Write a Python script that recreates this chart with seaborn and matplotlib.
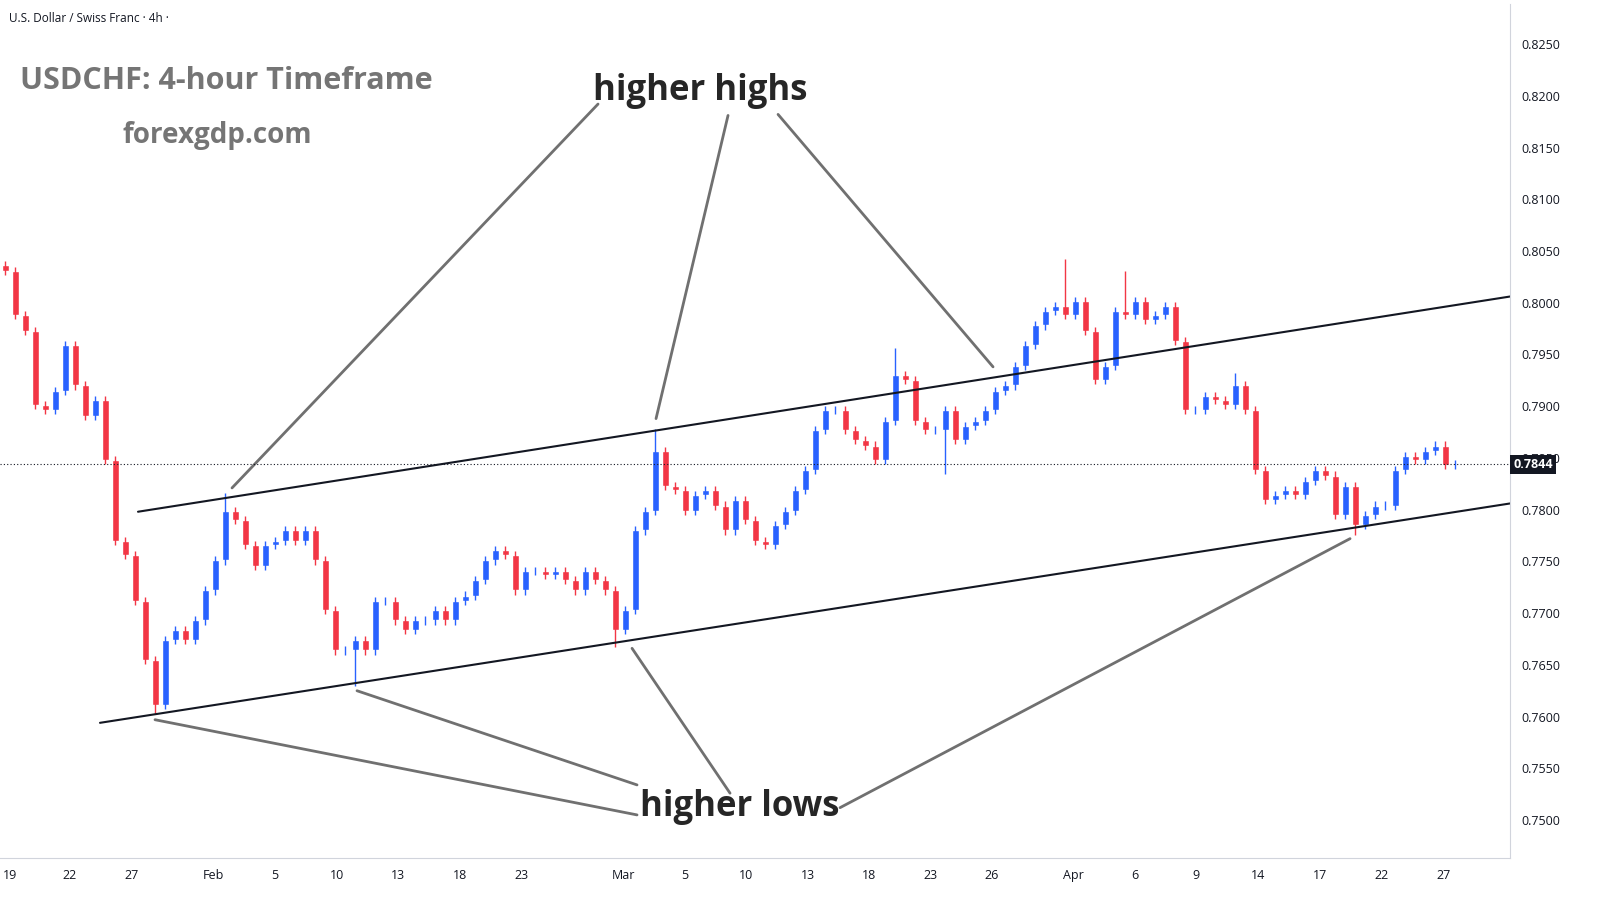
import numpy as np
import pandas as pd
import matplotlib
matplotlib.use("Agg")
import matplotlib.pyplot as plt
import seaborn as sns

# 4h closes (open = previous close)
closes = [0.8031, 0.7988, 0.7973, 0.7901, 0.7896, 0.7915, 0.7959, 0.7920, 0.7891, 0.7906,
          0.7848, 0.7770, 0.7756, 0.7712, 0.7655, 0.7611, 0.7674, 0.7684,
          0.7674, 0.7693, 0.7722, 0.7751, 0.7799, 0.7790, 0.7766, 0.7746, 0.7766,
          0.7770, 0.7780, 0.7770, 0.7780, 0.7751, 0.7703, 0.7664, 0.7664, 0.7674, 0.7664,
          0.7712, 0.7712, 0.7693, 0.7684, 0.7693, 0.7693, 0.7703, 0.7693, 0.7712,
          0.7717, 0.7732, 0.7751, 0.7761, 0.7756, 0.7722, 0.7741, 0.7741, 0.7737, 0.7741,
          0.7732, 0.7722, 0.7741, 0.7732, 0.7722, 0.7684, 0.7703, 0.7780, 0.7799, 0.7857,
          0.7823, 0.7819, 0.7799, 0.7814, 0.7819, 0.7804, 0.7780, 0.7809, 0.7790, 0.7770,
          0.7766, 0.7785, 0.7799, 0.7819, 0.7838, 0.7877, 0.7896, 0.7896, 0.7877, 0.7867,
          0.7862, 0.7848, 0.7886, 0.7930, 0.7925, 0.7886, 0.7877, 0.7877, 0.7896, 0.7867,
          0.7881, 0.7886, 0.7896, 0.7915, 0.7920, 0.7939, 0.7959, 0.7978, 0.7992, 0.7997,
          0.7988, 0.8002, 0.7973, 0.7925, 0.7939, 0.7992, 0.7988, 0.8002,
          0.7983, 0.7988, 0.7997, 0.7963, 0.7896, 0.7896, 0.7910, 0.7906, 0.7901, 0.7920,
          0.7896, 0.7838, 0.7809, 0.7814, 0.7819, 0.7814, 0.7828, 0.7838, 0.7833, 0.7795,
          0.7823, 0.7785, 0.7795, 0.7804, 0.7804, 0.7838, 0.7852, 0.7848, 0.7857, 0.7862,
          0.7843, 0.7844]
first_open = 0.8036

# notable wick extremes (bar index, price)
high_idx = [0, 22, 65, 89, 106, 112, 123]
high_val = [0.8040, 0.7816, 0.7878, 0.7956, 0.8042, 0.8031, 0.7932]
low_idx = [15, 35, 61, 94, 135]
low_val = [0.7603, 0.7630, 0.7667, 0.7834, 0.7776]

tick_pos = [0.5, 6.5, 12.7, 20.8, 27, 33.2, 39.3, 45.5, 51.6, 61.8, 68, 74.1, 80.3,
            86.4, 92.5, 98.7, 106.8, 113, 119.1, 125.3, 131.5, 137.6, 143.8]
tick_lab = ["19", "22", "27", "Feb", "5", "10", "13", "18", "23", "Mar", "5", "10", "13",
            "18", "23", "26", "Apr", "6", "9", "14", "17", "22", "27"]
price_ticks = [0.7500, 0.7550, 0.7600, 0.7650, 0.7700, 0.7750, 0.7800, 0.7850,
               0.7900, 0.7950, 0.8000, 0.8050, 0.8100, 0.8150, 0.8200, 0.8250]

# channel lines: (x0, y0, x1, y1)
upper_line = [13.3, 0.7798, 150.5, 0.8006]
lower_line = [9.5, 0.7594, 150.5, 0.7806]

# callout pointers: from (label) -> to (touch point)
hh_arrows = [(59.3, 0.8192, 22.7, 0.7821), (72.3, 0.8181, 65.1, 0.7888), (77.3, 0.8182, 98.8, 0.7938)]
hl_arrows = [(63.2, 0.7505, 15.0, 0.7597), (63.2, 0.7534, 35.2, 0.7625),
             (72.5, 0.7526, 62.7, 0.7666), (83.5, 0.7512, 134.5, 0.7772)]

opens = [first_open] + closes[:-1]
df = pd.DataFrame({"open": opens, "close": closes})
df["idx"] = np.arange(len(df))
df["high"] = df[["open", "close"]].max(axis=1) + 0.0004
df["low"] = df[["open", "close"]].min(axis=1) - 0.0004
df.loc[high_idx, "high"] = high_val
df.loc[low_idx, "low"] = low_val
df["up"] = df["close"] >= df["open"]

sns.set_style("white")
plt.rcParams["font.family"] = ["Open Sans", "DejaVu Sans"]

fig = plt.figure(figsize=(16.22, 9.21), dpi=100)
ax = fig.add_axes([0.0, 0.068, 0.931, 0.928])

up_c, dn_c = "#2962ff", "#f23645"
colors = np.where(df["up"], up_c, dn_c)
ax.vlines(df["idx"], df["low"], df["high"], colors=colors, linewidth=1)
body = (df["close"] - df["open"]).abs().clip(lower=0.00008)
ax.bar(df["idx"], body, bottom=df[["open", "close"]].min(axis=1), width=0.7, color=colors)

for ln in (upper_line, lower_line):
    ax.plot([ln[0], ln[2]], [ln[1], ln[3]], color="#131722", lw=1.5)
for a in hh_arrows + hl_arrows:
    ax.plot([a[0], a[2]], [a[1], a[3]], color="#707070", lw=2)

last = closes[-1]
ax.axhline(last, color="#131722", lw=0.8, ls=(0, (1, 2)))

ax.text(69.5, 0.8205, "higher highs", fontsize=25, fontweight="bold", ha="center", va="center")
ax.text(73.5, 0.7513, "higher lows", fontsize=25, fontweight="bold", ha="center", va="center")
ax.text(0.013, 0.91, "USDCHF: 4-hour Timeframe", transform=ax.transAxes, fontsize=22,
        fontweight="bold", color="#757575", va="center")
ax.text(0.081, 0.846, "forexgdp.com", transform=ax.transAxes, fontsize=20,
        fontweight="bold", color="#757575", va="center")
ax.text(0.006, 0.983, "U.S. Dollar / Swiss Franc · 4h ·", transform=ax.transAxes,
        fontsize=8.5, color="#131722", va="center")

ax.set_xlim(-0.5, 150.5)
ax.set_ylim(0.7463, 0.8289)
ax.set_xticks(tick_pos)
ax.set_xticklabels(tick_lab, fontsize=9, color="#131722")
ax.yaxis.tick_right()
ax.set_yticks(price_ticks)
ax.set_yticklabels([f"{p:.4f}" for p in price_ticks], fontsize=9, color="#131722")
ax.tick_params(length=0, pad=8)
for s in ["top", "left"]:
    ax.spines[s].set_visible(False)
for s in ["right", "bottom"]:
    ax.spines[s].set_color("#d1d4dc")

ax.text(1.002, last, f"{last:.4f}", transform=ax.get_yaxis_transform(), fontsize=9,
        color="white", fontweight="bold", va="center", ha="left", zorder=10, clip_on=False,
        bbox=dict(boxstyle="square,pad=0.25", fc="#131722", ec="none"))

fig.savefig("out.png", dpi=100, facecolor="white")
